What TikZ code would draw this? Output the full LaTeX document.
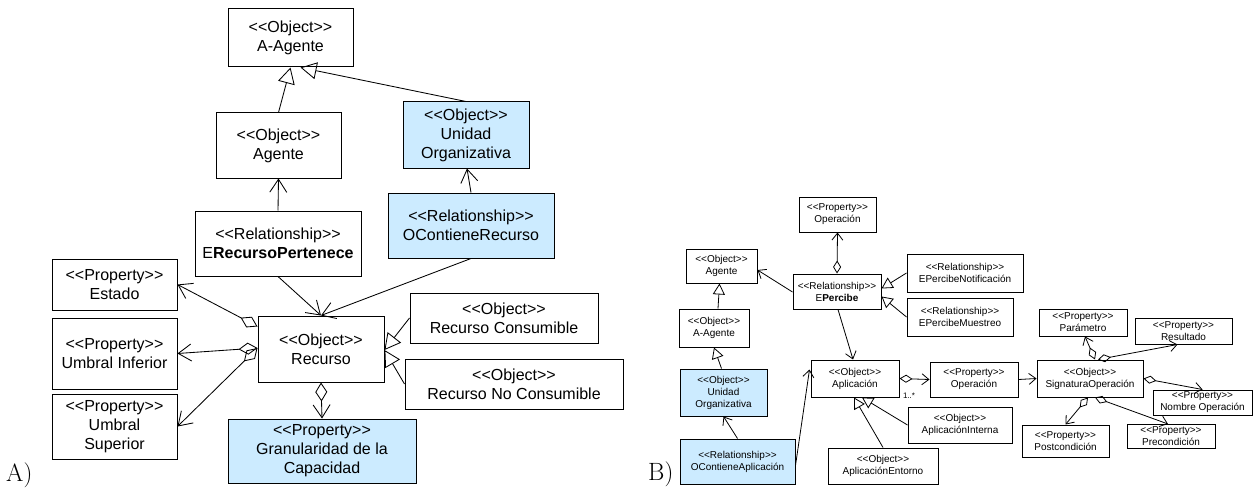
\documentclass[tikz,border=0pt]{standalone}
\usepackage{fontspec}
\newfontfamily\arialfont{Liberation Sans}[Ligatures=TeXOff]
\usetikzlibrary{arrows.meta,calc}
\definecolor{boxblue}{HTML}{CCEBFF}
\begin{document}
\begin{tikzpicture}[x=1pt,y=-1pt,
  box/.style={draw=black, line width=1pt, fill=white, align=center, inner sep=0pt},
  lbox/.style={box, font=\arialfont\fontsize{16}{19}\selectfont},
  rbox/.style={box, font=\arialfont\fontsize{10}{12}\selectfont},
  tinted/.style={fill=boxblue},
  lline/.style={line width=0.85pt},
  lassoc/.style={lline, -{Straight Barb[length=13pt,width=17pt]}},
  lgen/.style={lline, -{Triangle[open,length=16pt,width=17pt]}},
  lagg/.style={lline, {Diamond[open,length=19pt,width=12pt]}-{Straight Barb[length=13pt,width=17pt]}},
  rline/.style={line width=0.8pt},
  rassoc/.style={rline, -{Straight Barb[length=7pt,width=11pt]}},
  rgen/.style={rline, -{Triangle[open,length=11pt,width=12pt]}},
  ragg/.style={rline, {Diamond[open,length=13pt,width=8pt]}-{Straight Barb[length=7pt,width=11pt]}},
  mult/.style={font=\arialfont\fontsize{8}{9}\selectfont, inner sep=0pt},
  tag/.style={font=\fontsize{25}{28}\selectfont, inner sep=0pt, anchor=base west}
]
\useasboundingbox (0,0) rectangle (1255,492);

% ---------- A) resource model ----------
\node[lbox, minimum width=125pt, minimum height=58pt] (laag) at (290.5,38) {<<Object>>\\A-Agente};
\node[lbox, minimum width=125pt, minimum height=65pt] (lag) at (278.5,145.5) {<<Object>>\\Agente};
\node[lbox, tinted, minimum width=126pt, minimum height=66pt] (lun) at (466,135) {<<Object>>\\Unidad\\Organizativa};
\node[lbox, minimum width=166pt, minimum height=65pt] (lerp) at (278,243.5) {<<Relationship>>\\E\textbf{RecursoPertenece}};
\node[lbox, tinted, minimum width=166pt, minimum height=65pt] (locr) at (471,225.5) {<<Relationship>>\\OContieneRecurso};
\node[lbox, minimum width=126pt, minimum height=66pt] (lrec) at (321,349) {<<Object>>\\Recurso};
\node[lbox, minimum width=188pt, minimum height=50pt] (lrc) at (504,318) {<<Object>>\\Recurso Consumible};
\node[lbox, minimum width=218pt, minimum height=50pt] (lrnc) at (514,384) {<<Object>>\\Recurso No Consumible};
\node[lbox, tinted, minimum width=188pt, minimum height=64pt] (lgran) at (322,451) {<<Property>>\\Granularidad de la\\Capacidad};
\node[lbox, minimum width=125pt, minimum height=51pt] (lest) at (114.5,284.5) {<<Property>>\\Estado};
\node[lbox, minimum width=125pt, minimum height=71pt] (luinf) at (114.5,353.5) {<<Property>>\\Umbral Inferior};
\node[lbox, minimum width=125pt, minimum height=65pt] (lusup) at (114.5,426.5) {<<Property>>\\Umbral\\Superior};

\draw[lgen] (lag.north) -- (laag.south);
\draw[lgen] (lun.north) -- ($(laag.south)+(10,0)$);
\draw[lassoc] (lerp.north) -- (lag.south);
\draw[lassoc] (locr.north) -- ($(lun.south)+(1,0)$);
\draw[lassoc] (lerp.south) -- (lrec.north);
\draw[lassoc] (locr.south) -- (lrec.north);
\draw[lagg] (lrec.south) -- (lgran.north);
\draw[lagg] ($(lrec.north west)+(0,11)$) -- (lest.east);
\draw[lagg] ($(lrec.west)+(0,-1)$) -- (luinf.east);
\draw[lagg] ($(lrec.west)+(0,-1)$) -- (lusup.east);
\draw[lgen] (lrc.west) -- ($(lrec.east)+(0,1)$);
\draw[lgen] (lrnc.west) -- ($(lrec.east)+(0,1)$);

\node[tag] (tagA) at (6,481) {A)};

% ---------- B) perception model ----------
\node[rbox, minimum width=77pt, minimum height=35pt] (rop1) at (837.5,214.5) {<<Property>>\\Operación};
\node[rbox, minimum width=71pt, minimum height=34pt] (rag) at (721.5,266) {<<Object>>\\Agente};
\node[rbox, minimum width=88pt, minimum height=35pt] (rep) at (837,291.5) {<<Relationship>>\\E\textbf{Percibe}};
\node[rbox, minimum width=116pt, minimum height=38pt] (rnot) at (965,273) {<<Relationship>>\\EPercibeNotificación};
\node[rbox, minimum width=106pt, minimum height=38pt] (rmue) at (960,317) {<<Relationship>>\\EPercibeMuestreo};
\node[rbox, minimum width=70pt, minimum height=38pt] (raag) at (714,328) {<<Object>>\\A-Agente};
\node[rbox, tinted, minimum width=87pt, minimum height=47pt] (run) at (723.5,392.5) {<<Object>>\\Unidad\\Organizativa};
\node[rbox, tinted, minimum width=115pt, minimum height=45pt] (roca) at (737.5,461.5) {<<Relationship>>\\OContieneAplicación};
\node[rbox, minimum width=88pt, minimum height=37pt] (rapl) at (855,378.5) {<<Object>>\\Aplicación};
\node[rbox, minimum width=88pt, minimum height=35pt] (rop2) at (974,379.5) {<<Property>>\\Operación};
\node[rbox, minimum width=104pt, minimum height=36pt] (rint) at (960,425) {<<Object>>\\AplicaciónInterna};
\node[rbox, minimum width=110pt, minimum height=36pt] (rent) at (883,466) {<<Object>>\\AplicaciónEntorno};
\node[rbox, minimum width=88pt, minimum height=27pt] (rpar) at (1083,322.5) {<<Property>>\\Parámetro};
\node[rbox, minimum width=97pt, minimum height=26pt] (rres) at (1183.5,331) {<<Property>>\\Resultado};
\node[rbox, minimum width=106pt, minimum height=37pt] (rsig) at (1090,378.5) {<<Object>>\\SignaturaOperación};
\node[rbox, minimum width=99pt, minimum height=25pt] (rnom) at (1202.5,402.5) {<<Property>>\\Nombre Operación};
\node[rbox, minimum width=87pt, minimum height=32pt] (rpost) at (1065.5,441) {<<Property>>\\Postcondición};
\node[rbox, minimum width=88pt, minimum height=24pt] (rpre) at (1171,436.5) {<<Property>>\\Precondición};

\draw[ragg] (rep.north) -- (rop1.south);
\draw[rassoc] ($(rep.west)+(0,0.5)$) -- ($(rag.east)+(0,4)$);
\draw[rgen] (rnot.west) -- ($(rep.east)+(0,-3)$);
\draw[rgen] (rmue.west) -- ($(rep.east)+(0,5)$);
\draw[rassoc] ($(rep.south)+(1,0)$) -- ($(rapl.north)+(-2,0)$);
\draw[rgen] ($(raag.north)+(4,0)$) -- ($(rag.south)+(-2,0)$);
\draw[rgen] ($(run.north)+(-2,0)$) -- (raag.south);
\draw[rassoc] (roca.north) -- (run.south);
\draw[rassoc] ($(roca.east)+(0,4)$) -- ($(rapl.north west)+(-1,10)$);
\draw[ragg] (rapl.east) -- (rop2.west);
\node[mult] (m1) at (909,396) {1..*};
\draw[rassoc] (rop2.east) -- (rsig.west);
\draw[rgen] (rint.west) -- ($(rapl.south)+(7,0)$);
\draw[rgen] (rent.north) -- ($(rapl.south)+(-1,0)$);
\draw[ragg] ($(rsig.north)+(5,0)$) -- ($(rpar.south)+(2,0)$);
\draw[ragg] ($(rsig.north)+(8,0)$) -- ($(rres.south)+(-6,0)$);
\draw[ragg] (rsig.east) -- (rnom.north);
\draw[ragg] ($(rsig.south)+(-2,0)$) -- (rpost.north);
\draw[ragg] ($(rsig.south)+(5,0)$) -- ($(rpre.north)+(-3,0)$);

\node[tag] (tagB) at (648,480) {B)};
\end{tikzpicture}
\end{document}
